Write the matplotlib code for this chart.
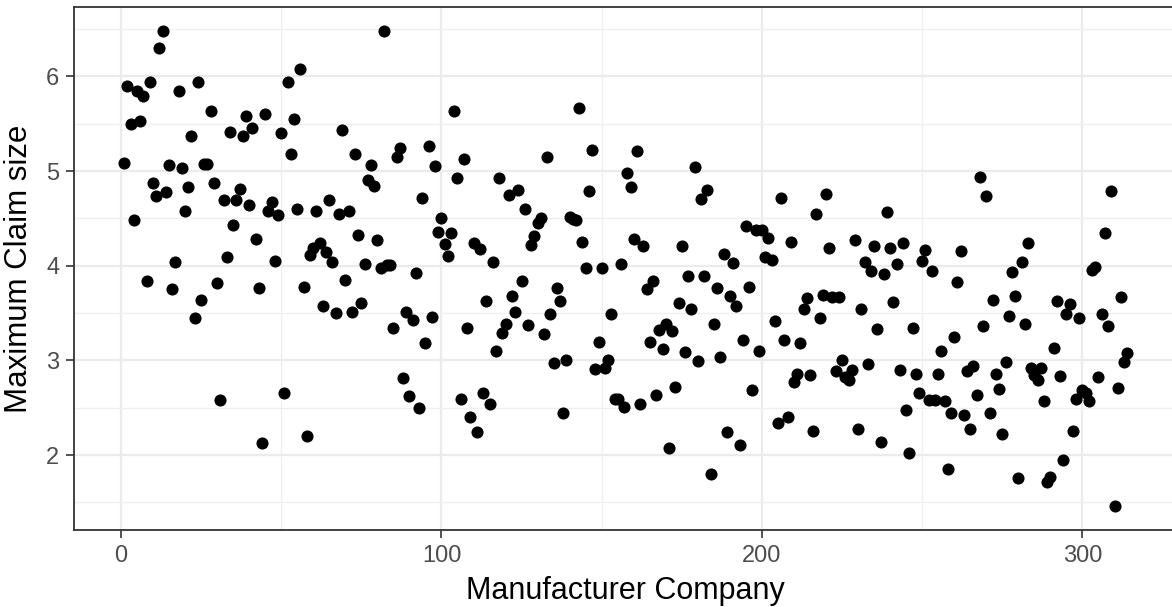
import numpy as np
import matplotlib
matplotlib.use("Agg")
import matplotlib.pyplot as plt
from matplotlib.ticker import MultipleLocator

# Maximum claim size observed for each manufacturer company (ids 1..314)
max_claim = [
    5.09, 5.90, 5.50, 4.48, 5.85, 5.53, 5.79, 3.84, 5.94, 4.88,
    4.74, 6.30, 6.48, 4.78, 5.07, 3.76, 4.04, 5.85, 5.03, 4.58,
    4.83, 5.37, 3.45, 5.94, 3.64, 5.08, 5.08, 5.64, 4.88, 3.82,
    2.58, 4.70, 4.09, 5.41, 4.43, 4.70, 4.81, 5.37, 5.58, 4.64,
    5.46, 4.28, 3.77, 2.13, 5.60, 4.58, 4.67, 4.05, 4.54, 5.40,
    2.66, 5.94, 5.18, 5.55, 4.60, 6.08, 3.78, 2.20, 4.11, 4.19,
    4.58, 4.24, 3.58, 4.15, 4.69, 4.04, 3.50, 4.55, 5.44, 3.85,
    4.58, 3.51, 5.18, 4.33, 3.61, 4.02, 4.91, 5.06, 4.84, 4.27,
    3.98, 6.48, 4.01, 4.01, 3.34, 5.15, 5.24, 2.82, 3.51, 2.62,
    3.43, 3.92, 2.50, 4.72, 3.18, 5.27, 3.46, 5.05, 4.36, 4.50,
    4.23, 4.10, 4.35, 5.64, 4.93, 2.59, 5.13, 3.34, 2.40, 4.24,
    2.24, 4.18, 2.66, 3.63, 2.54, 4.04, 3.10, 4.93, 3.29, 3.39,
    4.75, 3.68, 3.51, 4.80, 3.84, 4.60, 3.37, 4.22, 4.31, 4.45,
    4.50, 3.28, 5.15, 3.49, 2.97, 3.77, 3.63, 2.45, 3.01, 4.52,
    4.49, 4.48, 5.67, 4.25, 3.98, 4.79, 5.22, 2.91, 3.20, 3.98,
    2.92, 3.00, 3.49, 2.59, 2.59, 4.02, 2.51, 4.98, 4.83, 4.28,
    5.21, 2.54, 4.21, 3.75, 3.19, 3.84, 2.63, 3.32, 3.12, 3.39,
    2.08, 3.31, 2.72, 3.61, 4.21, 3.09, 3.89, 3.54, 5.04, 2.99,
    4.71, 3.89, 4.80, 1.80, 3.38, 3.77, 3.04, 4.12, 2.24, 3.68,
    4.03, 3.58, 2.11, 3.22, 4.42, 3.78, 2.69, 4.38, 3.10, 4.38,
    4.09, 4.29, 4.06, 3.42, 2.34, 4.72, 3.22, 2.40, 4.25, 2.77,
    2.86, 3.18, 3.54, 3.66, 2.85, 2.25, 4.55, 3.45, 3.69, 4.76,
    4.19, 3.67, 2.89, 3.67, 3.00, 2.83, 2.79, 2.90, 4.27, 2.28,
    3.54, 4.04, 2.96, 3.95, 4.21, 3.33, 2.14, 3.91, 4.57, 4.19,
    3.62, 4.02, 2.90, 4.24, 2.48, 2.02, 3.34, 2.86, 2.66, 4.05,
    4.17, 2.58, 3.95, 2.58, 2.86, 3.10, 2.57, 1.85, 2.45, 3.25,
    3.83, 4.16, 2.42, 2.89, 2.28, 2.94, 2.63, 4.94, 3.36, 4.74,
    2.45, 3.64, 2.86, 2.70, 2.22, 2.98, 3.47, 3.93, 3.68, 1.76,
    4.04, 3.39, 4.24, 2.92, 2.85, 2.79, 2.92, 2.57, 1.72, 1.77,
    3.13, 3.63, 2.84, 1.95, 3.49, 3.60, 2.25, 2.59, 3.45, 2.69,
    2.66, 2.57, 3.96, 3.99, 2.83, 3.49, 4.35, 3.36, 4.79, 1.46,
    2.71, 3.67, 2.98, 3.08,
]
company = list(range(1, len(max_claim) + 1))

x_ticks = [0, 100, 200, 300]
y_ticks = [2, 3, 4, 5, 6]

plt.rcParams["font.family"] = ["Liberation Sans", "DejaVu Sans"]

fig = plt.figure(figsize=(11.72, 6.07), dpi=100)
W, H = 1172, 607
# panel spans slightly past the right edge of the canvas
left_px, right_px, top_px, bottom_px = 74, 1177.5, 7.3, 530
ax = fig.add_axes([left_px / W, 1 - bottom_px / H,
                   (right_px - left_px) / W, (bottom_px - top_px) / H])

ax.scatter(company, max_claim, s=76, color="black", linewidths=0, zorder=3)

# ggplot-style expanded limits (5% each side)
xr = max(company) - min(company)
yr = max(max_claim) - min(max_claim)
ax.set_xlim(min(company) - 0.05 * xr, max(company) + 0.05 * xr)
ax.set_ylim(min(max_claim) - 0.05 * yr, max(max_claim) + 0.05 * yr)

ax.set_xticks(x_ticks)
ax.set_yticks(y_ticks)
ax.xaxis.set_minor_locator(MultipleLocator(50))
ax.yaxis.set_minor_locator(MultipleLocator(0.5))

ax.grid(which="major", color="#EBEBEB", linewidth=1.6, zorder=0)
ax.grid(which="minor", color="#EFEFEF", linewidth=0.9, zorder=0)
ax.set_axisbelow(True)

for side, sp in ax.spines.items():
    sp.set_color("#333333")
    sp.set_linewidth(1.3)

ax.tick_params(axis="both", which="major", length=5.5, width=1.2,
               color="#333333", labelcolor="#4D4D4D", labelsize=17, pad=5)
ax.tick_params(axis="both", which="minor", length=0)

ax.set_xlabel("Manufacturer Company", fontsize=22, color="black", labelpad=7)
ax.set_ylabel("Maximum Claim size", fontsize=22.5, color="black", labelpad=9)

fig.savefig("out.png", dpi=100)
